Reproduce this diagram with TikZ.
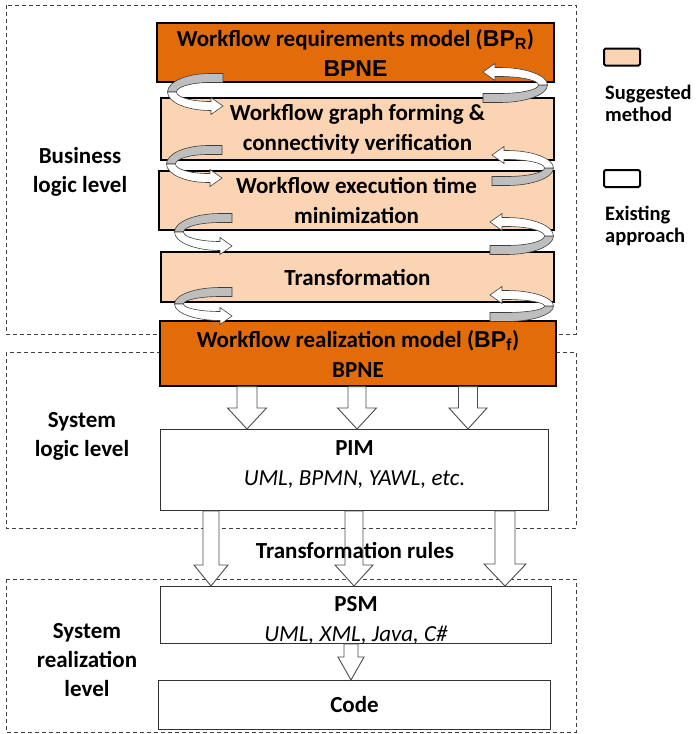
\documentclass[tikz,border=0pt]{standalone}
\usepackage{fontspec}
\setmainfont{Carlito}
\newfontfamily\arialfont{Liberation Sans}
\usetikzlibrary{calc}

\definecolor{arancio}{RGB}{227,108,10}
\definecolor{pesca}{RGB}{251,212,180}
\definecolor{nastro}{RGB}{190,190,190}

\tikzset{
  blocco/.style={draw, line width=1.4pt, align=center, inner sep=2pt,
    font=\fontsize{23}{30}\selectfont\bfseries},
  modello/.style={blocco, fill=arancio},
  metodo/.style={blocco, fill=pesca},
  esistente/.style={blocco, fill=white, draw=black!80, line width=1pt},
  livello/.style={draw=black!75, line width=0.8pt, dash pattern=on 4pt off 3pt},
  etichetta/.style={align=center, font=\fontsize{23}{29}\selectfont\bfseries},
  legenda/.style={draw, line width=2pt, rounded corners=1.5pt, minimum width=36, minimum height=17, inner sep=0pt},
  voce/.style={align=left, anchor=west, inner sep=0pt, font=\fontsize{20.5}{22}\selectfont\bfseries},
  freccia/.style={draw=black!70, fill=white, line width=0.9pt},
  dietro/.style={draw=black!75, fill=nastro, line width=0.6pt},
  davanti/.style={draw=black!75, fill=white, line width=0.6pt}
}

% nastro a sinistra: centro, semiasse x, semiasse y, sporgenza
\newcommand{\curlleft}[4]{%
  \begin{scope}[shift={(#1)}]
    \pgfmathsetmacro\Ao{#2+4.5}\pgfmathsetmacro\Bo{#3+4.5}
    \pgfmathsetmacro\Ai{#2-4.5}\pgfmathsetmacro\Bi{#3-4.5}
    \draw[dietro] (#4,-\Bo) -- (0,-\Bo) .. controls (-0.55*\Ao,-\Bo) and (-\Ao,-0.55*\Bo) .. (-\Ao,0)
      -- (-\Ai,0) .. controls (-\Ai,-0.55*\Bi) and (-0.55*\Ai,-\Bi) .. (0,-\Bi) -- (#4,-\Bi) -- cycle;
    \draw[davanti] (-\Ao,0) .. controls (-\Ao,0.55*\Bo) and (-0.55*\Ao,\Bo) .. (0,\Bo)
      -- (#4-12,\Bo) -- (#4-12,#3+8.5) -- (#4,#3) -- (#4-12,#3-8.5) -- (#4-12,\Bi) -- (0,\Bi)
      .. controls (-0.55*\Ai,\Bi) and (-\Ai,0.55*\Bi) .. (-\Ai,0) -- cycle;
  \end{scope}}

% nastro a destra: centro, semiasse x, semiasse y, sporgenza
\newcommand{\curlright}[4]{%
  \begin{scope}[shift={(#1)}]
    \pgfmathsetmacro\Ao{#2+4.5}\pgfmathsetmacro\Bo{#3+4.5}
    \pgfmathsetmacro\Ai{#2-4.5}\pgfmathsetmacro\Bi{#3-4.5}
    \draw[dietro] (-#4,\Bo) -- (0,\Bo) .. controls (0.55*\Ao,\Bo) and (\Ao,0.55*\Bo) .. (\Ao,0)
      -- (\Ai,0) .. controls (\Ai,0.55*\Bi) and (0.55*\Ai,\Bi) .. (0,\Bi) -- (-#4,\Bi) -- cycle;
    \draw[davanti] (\Ao,0) .. controls (\Ao,-0.55*\Bo) and (0.55*\Ao,-\Bo) .. (0,-\Bo)
      -- (-#4+12,-\Bo) -- (-#4+12,-#3-8.5) -- (-#4,-#3) -- (-#4+12,-#3+8.5) -- (-#4+12,-\Bi) -- (0,-\Bi)
      .. controls (0.55*\Ai,-\Bi) and (\Ai,-0.55*\Bi) .. (\Ai,0) -- cycle;
  \end{scope}}

% freccia larga: nodo sopra, nodo sotto, x, mezza asta, mezza punta, lunghezza punta
\newcommand{\fatarrow}[6]{%
  \draw[freccia] let \p1=(#1.south), \p2=(#2.north) in
    ({(#3-#4)*1pt},\y1) -- ({(#3-#4)*1pt},\y2+#6pt) -- ({(#3-#5)*1pt},\y2+#6pt)
    -- ({#3*1pt},\y2) -- ({(#3+#5)*1pt},\y2+#6pt) -- ({(#3+#4)*1pt},\y2+#6pt)
    -- ({(#3+#4)*1pt},\y1) -- cycle;}

\begin{document}
\begin{tikzpicture}[x=1pt, y=-1pt]
    \useasboundingbox (0,0) rectangle (696,734);

    % Livelli
    \draw[livello] (6,5) rectangle (576,334);
    \draw[livello] (6,352) rectangle (576,528);
    \draw[livello] (6,579) rectangle (576,732);
    \node[etichetta] (bus) at (80,172) {Business\\logic level};
    \node[etichetta] (sys) at (82,436) {System\\logic level};
    \node[etichetta] (rea) at (87,660) {System\\realization\\level};

    % Nodi
    \node[modello, minimum width=397, minimum height=59] (req) at (355.5,52.5)
        {Workflow requirements model ({\arialfont BP\textsubscript{R}})\\{\arialfont BPNE}};
    \node[metodo, minimum width=393, minimum height=62] (graph) at (357.5,129)
        {Workflow graph forming \&\\connectivity verification};
    \node[metodo, minimum width=395, minimum height=59] (time) at (356.5,200.5)
        {Workflow execution time\\minimization};
    \node[metodo, minimum width=393, minimum height=50] (transf) at (357.5,277) {Transformation};
    \node[modello, minimum width=396, minimum height=65] (real) at (358,353.5)
        {Workflow realization model ({\arialfont BP\textsubscript{f}})\\BPNE};
    \node[esistente, minimum width=388, minimum height=81, text depth=13pt] (pim) at (354.5,470)
        {PIM\\{\mdseries\itshape UML, BPMN, YAWL, etc.}};
    \node[esistente, minimum width=391, minimum height=57, text height=52pt, text depth=0pt] (psm) at (356,615)
        {PSM\\{\mdseries\itshape UML, XML, Java, C\#}};
    \node[esistente, minimum width=392, minimum height=49] (code) at (354.5,705) {Code};

    % Nastri tra i blocchi
    \curlleft{210,92}{38}{14}{13}
    \curlright{500,85}{43}{13}{17}
    \curlleft{208,164}{37}{14}{14}
    \curlright{507,168}{42}{13}{15}
    \curlleft{220,232}{41}{14}{12}
    \curlright{507,236}{42}{14}{17}
    \curlleft{220,304}{41}{12}{12}
    \curlright{507,306}{42}{11}{17}

    % Frecce
    \fatarrow{real}{pim}{247}{10}{19.5}{21}
    \fatarrow{real}{pim}{357}{9}{19.5}{21}
    \fatarrow{real}{pim}{468}{9.5}{19}{21}
    \fatarrow{pim}{psm}{211}{8}{17}{21}
    \fatarrow{pim}{psm}{354}{9}{19}{21}
    \fatarrow{pim}{psm}{505}{10}{21}{22}
    \fatarrow{psm}{code}{351}{7}{13}{23}
    \node[etichetta] (rules) at (355,550) {Transformation rules};

    % Legenda
    \node[legenda, fill=pesca] (sug) at (622,57) {};
    \node[voce] (sugt) at (605,103) {Suggested\\method};
    \node[legenda, fill=white] (ex) at (622,178.5) {};
    \node[voce] (ext) at (605,226) {Existing\\approach};
\end{tikzpicture}
\end{document}
